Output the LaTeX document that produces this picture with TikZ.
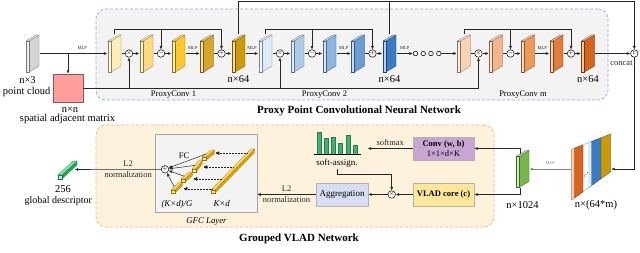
\documentclass[tikz,border=0pt]{standalone}
\usepackage{fontspec}
\setmainfont{Liberation Serif}
\usetikzlibrary{arrows.meta,positioning,calc}

\definecolor{pcgray}{HTML}{D4D4D4}
\definecolor{a1c}{HTML}{FDEDB9}
\definecolor{a2c}{HTML}{FCDB80}
\definecolor{a3c}{HTML}{FFC92E}
\definecolor{a4c}{HTML}{D8A52C}
\definecolor{a5c}{HTML}{CC9A06}
\definecolor{b1c}{HTML}{DDEAF7}
\definecolor{b2c}{HTML}{AFCBEA}
\definecolor{b3c}{HTML}{8BB5E2}
\definecolor{b4c}{HTML}{689DD5}
\definecolor{b5c}{HTML}{3A7CC3}
\definecolor{m1c}{HTML}{FAD3B5}
\definecolor{m2c}{HTML}{F5B58A}
\definecolor{m3c}{HTML}{F0985A}
\definecolor{m4c}{HTML}{DF7E3C}
\definecolor{m5c}{HTML}{D5641C}
\definecolor{descc}{HTML}{76B847}
\definecolor{adjred}{HTML}{FF9C9C}
\definecolor{pcblue}{HTML}{8FAADC}
\definecolor{pcpanel}{HTML}{F3F3F3}
\definecolor{vladedge}{HTML}{F4B183}
\definecolor{vladpanel}{HTML}{FFF2DD}
\definecolor{convc}{HTML}{C8A5D3}
\definecolor{corec}{HTML}{FFE699}
\definecolor{aggc}{HTML}{D7DDF2}
\definecolor{histc}{HTML}{3CB371}
\definecolor{goldl}{HTML}{FFD966}
\definecolor{goldd}{HTML}{DDA300}
\definecolor{greenl}{HTML}{7FE3A8}
\definecolor{greend}{HTML}{1FA75A}

% slanted 3d stick: start, end, thickness, light, dark
\newcommand{\gstick}[5]{%
  \filldraw[fill=#5, draw=#5!70!black, line width=.2pt] ($(#1)+(#3,0)$) -- ($(#2)+(#3,0)$) -- ($(#2)+(#3,#3)$) -- ($(#1)+(#3,#3)$) -- cycle;
  \filldraw[fill=#4, draw=#5!70!black, line width=.2pt] (#1) -- (#2) -- ($(#2)+(#3,0)$) -- ($(#1)+(#3,0)$) -- cycle;
  \filldraw[fill=#4!60!white, draw=#5!70!black, line width=.2pt] (#1) rectangle ($(#1)+(#3,#3)$);
}

\begin{document}
\begin{tikzpicture}[x=1pt, y=-1pt,
  wire/.style={line width=.6pt, black!85},
  arr/.style={wire, -{Latex[length=3.5pt, width=3pt]}},
  dotarr/.style={arr, line width=.5pt, densely dotted},
  op/.style={circle, draw, fill=white, line width=.5pt, inner sep=0pt, minimum size=7.5pt, font=\fontsize{6}{6}\selectfont},
  fmap/.style={inner sep=0pt, minimum width=14pt, minimum height=38pt, path picture={
    \begin{scope}[shift={(path picture bounding box.center)}]
      \filldraw[fill=#1, draw=#1!55!black, line width=.3pt] (-3.5pt,12.5pt) -- (6.5pt,18.5pt) -- (6.5pt,-12.5pt) -- (-3.5pt,-18.5pt) -- cycle;
      \filldraw[fill=#1!35!white, draw=#1!55!black, line width=.3pt] (-6.5pt,12.5pt) -- (3.5pt,18.5pt) -- (6.5pt,18.5pt) -- (-3.5pt,12.5pt) -- cycle;
      \filldraw[fill=#1!35!white, draw=#1!55!black, line width=.3pt] (-6.5pt,12.5pt) rectangle (-3.5pt,-18.5pt);
    \end{scope}}},
  catmap/.style={inner sep=0pt, minimum width=40pt, minimum height=70pt, path picture={
    \begin{scope}[shift={(path picture bounding box.center)}, line width=.3pt]
      \filldraw[fill=white, draw=black!45] (-19.3pt,19.7pt) -- (19.7pt,35pt) -- (19.7pt,-2.7pt) -- (-19.3pt,-31pt) -- cycle;
      \filldraw[fill=m5c, draw=m5c!60!black] (-19.3pt,19.7pt) -- (-8pt,24.1pt) -- (-8pt,-22.8pt) -- (-19.3pt,-31pt) -- cycle;
      \fill[m1c] (-19.3pt,19.7pt) -- (-17pt,20.6pt) -- (-17pt,-29.3pt) -- (-19.3pt,-31pt) -- cycle;
      \filldraw[fill=b5c, draw=b5c!60!black] (-2pt,26.5pt) -- (10pt,31.2pt) -- (10pt,-9.7pt) -- (-2pt,-18.4pt) -- cycle;
      \fill[b1c] (-2pt,26.5pt) -- (0.3pt,27.4pt) -- (0.3pt,-16.7pt) -- (-2pt,-18.4pt) -- cycle;
      \filldraw[fill=a5c, draw=a5c!60!black] (10pt,31.2pt) -- (19.7pt,35pt) -- (19.7pt,-2.7pt) -- (10pt,-9.7pt) -- cycle;
      \fill[black!70] (-6.5pt,-7pt) circle (.6pt) (-5pt,-5.3pt) circle (.6pt) (-3.5pt,-3.6pt) circle (.6pt);
    \end{scope}}},
  panel/.style={dash pattern=on 3pt off 2pt, line width=.7pt, rounded corners=10pt},
  box/.style={draw=black!30, line width=.4pt, minimum width=61pt, minimum height=23pt, inner sep=1pt, align=center, font=\fontsize{8.5}{9.5}\selectfont},
  lbl/.style={font=\fontsize{10.5}{12}\selectfont, inner sep=1pt},
  small/.style={font=\fontsize{8.5}{9.5}\selectfont, inner sep=1pt},
  ital/.style={font=\fontsize{8.8}{9.5}\selectfont\itshape, inner sep=1pt},
  mlp/.style={font=\fontsize{4.5}{5}\selectfont, inner sep=1pt, above=3pt},
  title/.style={font=\fontsize{11}{12}\selectfont\bfseries, inner sep=0pt}
]
\useasboundingbox (0,0) rectangle (640,253);

% panels
\node[panel, draw=pcblue, fill=pcpanel, minimum width=512pt, minimum height=91pt] (pcnn) at (352,54.5) {};
\node[panel, draw=vladedge, fill=vladpanel, minimum width=398pt, minimum height=102pt] (gvlad) at (295,176) {};
\node[title, anchor=base] at (359,113.3) {Proxy Point Convolutional Neural Network};
\node[title, anchor=base] at (299,241.7) {Grouped VLAD Network};

% input
\node[fmap=pcgray] (pc) at (32.5,53.5) {};
\node[lbl, anchor=base] at (27.5,83.3) {n×3};
\node[lbl, anchor=base] at (26.7,95) {point cloud};
\node[draw=adjred!55!black, fill=adjred, line width=.4pt, minimum width=30pt, minimum height=28pt] (adj) at (68,88) {};
\node[lbl, anchor=base] at (70,112.7) {n×n};
\node[lbl, anchor=base] at (67.5,121.7) {spatial adjacent matrix};

% proxy conv blocks
\foreach \bk/\sx/\nm in {a/114.5/1, b/265.5/2, m/464/m}{
  \node[fmap=\bk1c] (\bk1) at (\sx,53.5) {};
  \node[op] (mul\bk) at (\sx+14.5,53.5) {$\times$};
  \node[fmap=\bk2c] (\bk2) at (\sx+32,53.5) {};
  \node[op] (sub\bk) at (\sx+46.5,53.5) {$-$};
  \node[fmap=\bk3c] (\bk3) at (\sx+64,53.5) {};
  \node[fmap=\bk4c] (\bk4) at (\sx+92.5,53.5) {};
  \node[op] (add\bk) at (\sx+107,53.5) {$+$};
  \node[fmap=\bk5c] (\bk5) at (\sx+124,53.5) {};
  \node[lbl, below=2pt of \bk5] {n×64};
  \node[small, anchor=base] at (\sx+59,96.7) {ProxyConv \nm};
  \draw[wire] (\bk1) -- (mul\bk);
  \draw[arr] (mul\bk) -- (\bk2);
  \draw[wire] (\bk2) -- (sub\bk);
  \draw[arr] (sub\bk) -- (\bk3);
  \draw[arr] (\bk3) -- node[mlp] {MLP} (\bk4);
  \draw[wire] (\bk4) -- (add\bk);
  \draw[arr] (add\bk) -- (\bk5);
  \draw[arr] (\bk1.north) -- ++(0,-5) coordinate (loop\bk) -| (add\bk);
  \draw[arr] (loop\bk -| sub\bk) -- (sub\bk);
}
\foreach \i/\x in {1/415.5, 2/423.2, 3/431, 4/438.8}
  \node[circle, draw, line width=.5pt, inner sep=0pt, minimum size=4.6pt] (dot\i) at (\x,53.5) {};
\node[op] (cc) at (634.3,53.5) {c};
\coordinate (topr) at (634.3,1.5);

\draw[arr] (pc) -- node[mlp, pos=.63] {MLP} (a1);
\draw[arr] (pc -| adj) -- (adj);
\draw[arr] (adj) -| (mulm);
\draw[arr] (adj -| mula) -- (mula);
\draw[arr] (adj -| mulb) -- (mulb);
\draw[arr] (a5) -- node[mlp] {MLP} (b1);
\draw[arr] (b5) -- node[mlp] {MLP} (dot1);
\draw[arr] (dot4) -- (m1);
\draw[arr] (a5.north) |- (topr) -- (cc);
\draw[wire] (b5.north) -- (b5.north |- topr);
\draw[arr] (m5) -- node[small, pos=.75, below=5.5pt] {concat} (cc);

% grouped vlad
\node[catmap] (cat) at (591,169) {};
\node[lbl, anchor=base] at (596,208) {n×(64*m)};
\node[fmap=descc] (gs) at (522.5,169) {};
\node[lbl, below=12pt of gs] {n×1024};
\draw[arr] (cc) |- (cat);
\draw[arr, black!50] (cat) -- node[mlp] {MLP} (gs);

\node[box, fill=convc] (conv) at (443.5,148.5) {\textbf{Conv (w, b)}\\1×1×d×K};
\node[box, fill=corec] (vlad) at (443.5,194.5) {\textbf{VLAD core (c)}};
\node[box, fill=aggc, minimum width=52pt, font=\fontsize{9}{10}\selectfont] (agg) at (342,194.5) {Aggregation};
\node[op] (vmul) at (391.7,194.5) {$\times$};
\draw[arr] ([xshift=-2pt, yshift=-4pt]gs.north) |- (conv);
\draw[arr] ([xshift=-2pt]gs.south) |- (vlad);

\node[inner sep=0pt, minimum width=60pt, minimum height=26pt] (hist) at (337.5,142) {};
\foreach \x/\t in {316.7/131.7, 324.3/138, 331.3/137, 338.3/142.7, 345.7/135, 352.7/145}
  \filldraw[fill=histc, draw=histc!70!black, line width=.3pt] (\x,154.3) rectangle (\x+4,\t);
\draw[line width=.6pt] (314,154.3) -- (361,154.3);
\node[font=\fontsize{9}{10}\selectfont, inner sep=1pt, anchor=base] (assign) at (337,166) {soft-assign.};

\draw[arr] (conv) -- node[small, above=2pt] {softmax} (conv -| hist.east);
\draw[arr] (assign.south) -- ++(0,5.5) -| (vmul);
\draw[arr] (vlad) -- (vmul);
\draw[arr] (vmul) -- (agg);

% gfc layer
\node[draw=black!35, fill=pcpanel, line width=.6pt, minimum width=102pt, minimum height=78pt] (gfc) at (206,173) {};
\node[ital, anchor=base] at (206.5,223.5) {GFC Layer};
\draw[arr] (agg) -- node[small, above=2pt] {L2} node[small, below=1pt] {normalization} (agg -| gfc.east);

\coordinate (kdP) at (211,190);
\coordinate (kdQ) at (251,149);
\coordinate (gp1) at (171,190); \coordinate (gq1) at (179,182);
\coordinate (gp2) at (181,179); \coordinate (gq2) at (189,172);
\coordinate (gp3) at (192,169); \coordinate (gq3) at (199,160);
\coordinate (gp4) at (202,157); \coordinate (gq4) at (211,150);
\gstick{kdP}{kdQ}{3.6}{goldl}{goldd}
\foreach \i in {1,...,4}
  \gstick{gp\i}{gq\i}{3.6}{goldl}{goldd}
\foreach \t/\i in {.9/4, .56/3, .27/2, .03/1}
  \draw[dotarr, shorten >=4.5pt] ($(kdP)!\t!(kdQ)$) coordinate (ds) -- (ds -| gq\i);

\node[op] (gadd) at (165,169.3) {$+$};
\foreach \i in {1,...,4}
  \draw[arr, line width=.5pt] ($(gp\i)!.4!(gq\i)$) -- (gadd);
\node[small, anchor=base] at (184,158.3) {FC};
\node[ital, anchor=base] at (177,207) {(K×d)/G};
\node[ital, anchor=base] at (221.7,207) {K×d};

% output descriptor
\node[inner sep=0pt, minimum size=15pt] (gd) at (67,169.5) {};
\gstick{58,175}{73,161}{4}{greenl}{greend}
\draw[arr] (gadd) -- node[small, pos=.38, above=2pt] {L2} node[small, pos=.38, below=1pt] {normalization} (gd);
\node[lbl, anchor=base] at (63,192.3) {256};
\node[lbl, font=\fontsize{10}{11}\selectfont, anchor=base] at (58.3,203.3) {global descriptor};
\end{tikzpicture}
\end{document}
